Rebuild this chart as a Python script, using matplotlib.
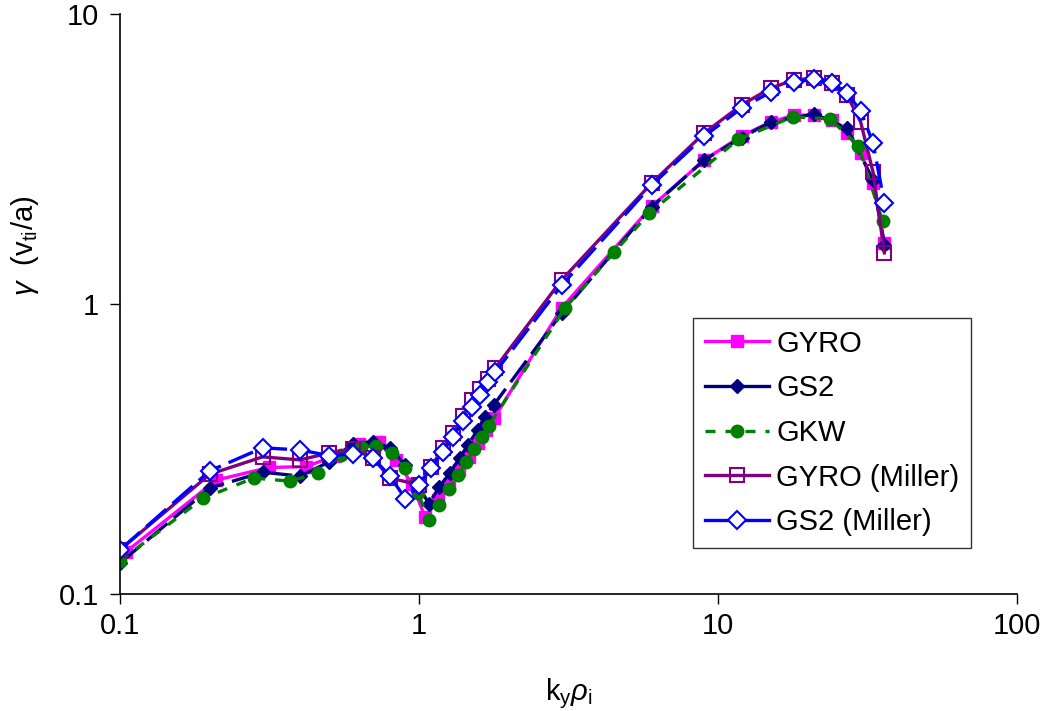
import matplotlib
matplotlib.use('Agg')
import matplotlib.pyplot as plt
from matplotlib.lines import Line2D
from matplotlib.ticker import FixedLocator, NullLocator, FuncFormatter

plt.rcParams['font.family'] = ['Liberation Sans', 'DejaVu Sans']
plt.rcParams['mathtext.fontset'] = 'custom'
plt.rcParams['mathtext.rm'] = 'Liberation Sans'
plt.rcParams['mathtext.it'] = 'Liberation Sans:italic'

# growth rate vs k_y rho_i
gyro_k = [0.105, 0.21, 0.315, 0.42, 0.525, 0.63, 0.735, 0.84, 0.945, 1.05, 1.155, 1.26,
          1.365, 1.47, 1.575, 1.68, 1.785, 3, 6, 9, 12, 15, 18, 21, 24, 27, 30, 33, 36]
gyro_g = [0.14, 0.247, 0.273, 0.275, 0.30, 0.33, 0.335, 0.29, 0.24, 0.184, 0.211, 0.238,
          0.268, 0.297, 0.332, 0.368, 0.404, 0.97, 2.17, 3.14, 3.8, 4.24, 4.48, 4.48, 4.31,
          3.89, 3.32, 2.61, 1.62]

gs2_k = [0.1, 0.2, 0.3, 0.4, 0.5, 0.6, 0.7, 0.8, 0.9, 1.08, 1.17, 1.27, 1.37, 1.46, 1.57,
         1.66, 1.78, 3, 6, 9, 12, 15, 21, 27, 33, 36]
gs2_g = [0.128, 0.232, 0.263, 0.255, 0.285, 0.33, 0.335, 0.319, 0.278, 0.205, 0.234, 0.262,
         0.295, 0.327, 0.368, 0.408, 0.449, 0.93, 2.16, 3.14, 3.75, 4.24, 4.52, 4.04, 2.68, 1.6]

gkw_k = [0.1, 0.19, 0.28, 0.37, 0.46, 0.55, 0.64, 0.72, 0.81, 0.9, 0.99, 1.08, 1.17, 1.26,
         1.35, 1.44, 1.53, 1.62, 1.71, 3.08, 4.5, 5.9, 11.7, 17.8, 23.7, 29.5, 35.5]
gkw_g = [0.13, 0.214, 0.251, 0.245, 0.261, 0.301, 0.321, 0.324, 0.306, 0.272, 0.223, 0.18,
         0.203, 0.23, 0.257, 0.285, 0.316, 0.348, 0.38, 0.969, 1.51, 2.06, 3.7, 4.42, 4.35,
         3.51, 1.93]

gyro_m_k = [0.1, 0.2, 0.3, 0.4, 0.5, 0.6, 0.7, 0.8, 1.0, 1.1, 1.2, 1.3, 1.4, 1.5, 1.6, 1.7,
            1.8, 3, 6, 9, 12, 15, 18, 21, 24, 27, 30, 33, 36]
gyro_m_g = [0.142, 0.259, 0.297, 0.29, 0.306, 0.316, 0.295, 0.251, 0.238, 0.274, 0.319,
            0.359, 0.41, 0.467, 0.509, 0.551, 0.602, 1.21, 2.61, 3.89, 4.86, 5.55, 5.93, 6.0,
            5.78, 5.25, 4.24, 2.85, 1.5]

gs2_m_k = [0.1, 0.2, 0.3, 0.4, 0.5, 0.6, 0.7, 0.8, 0.9, 1.0, 1.1, 1.2, 1.3, 1.4, 1.5, 1.6,
           1.7, 1.8, 3, 6, 9, 12, 15, 18, 21, 24, 27, 30, 33, 36]
gs2_m_g = [0.142, 0.266, 0.319, 0.314, 0.30, 0.304, 0.295, 0.255, 0.213, 0.238, 0.272,
           0.309, 0.348, 0.395, 0.441, 0.486, 0.538, 0.583, 1.16, 2.57, 3.79, 4.74, 5.38,
           5.82, 5.97, 5.78, 5.34, 4.63, 3.59, 2.23]

labels = ['GYRO', 'GS2', 'GKW', 'GYRO (Miller)', 'GS2 (Miller)']
x_ticks = [0.1, 1, 10, 100]
y_ticks = [0.1, 1, 10]

fig = plt.figure(figsize=(10.46, 7.11), dpi=100)
ax = fig.add_axes([0.1147, 0.1646, 0.8576, 0.8157])

lw = 2.4
ax.plot(gyro_k, gyro_g, color='#FF00FF', lw=lw, marker='s', ms=8,
        mfc='#FF00FF', mec='#FF00FF')
ax.plot(gs2_k, gs2_g, color='#000080', lw=lw, ls=(0, (8, 2.5)), marker='D', ms=7,
        mfc='#000080', mec='#000080')
ax.plot(gkw_k, gkw_g, color='#008000', lw=lw, ls=(0, (3, 3)), marker='o', ms=9,
        mfc='#008000', mec='#008000')
ax.plot(gyro_m_k, gyro_m_g, color='#800080', lw=lw, marker='s', ms=10,
        mfc='none', mec='#800080', mew=1.5)
ax.plot(gs2_m_k, gs2_m_g, color='#0000FF', lw=lw, ls=(0, (8, 2.5)), marker='D', ms=9,
        mfc='white', mec='#0000FF', mew=1.5)

ax.set_xscale('log')
ax.set_yscale('log')
ax.set_xlim(0.1, 100)
ax.set_ylim(0.1, 10)
ax.xaxis.set_major_locator(FixedLocator(x_ticks))
ax.yaxis.set_major_locator(FixedLocator(y_ticks))
ax.xaxis.set_minor_locator(NullLocator())
ax.yaxis.set_minor_locator(NullLocator())
fmt = FuncFormatter(lambda v, p: '%g' % v)
ax.xaxis.set_major_formatter(fmt)
ax.yaxis.set_major_formatter(fmt)
ax.tick_params(direction='out', length=7, width=1, labelsize=21, colors='black')
ax.tick_params(axis='y', pad=8)
ax.tick_params(axis='x', pad=6)

for s in ['top', 'right']:
    ax.spines[s].set_visible(False)
for s in ['left', 'bottom']:
    ax.spines[s].set_linewidth(1.2)

ax.set_xlabel(r'k$_\mathregular{y}$$\rho_\mathregular{i}$', fontsize=21, labelpad=26)
ax.set_ylabel(r'$\gamma$  (v$_\mathregular{ti}$/a)', fontsize=21)
ax.yaxis.set_label_coords(-0.088, 0.6)

# legend samples: the Excel legend draws the GS2 lines solid
handles = [
    Line2D([], [], color='#FF00FF', lw=lw, marker='s', ms=8, mfc='#FF00FF', mec='#FF00FF'),
    Line2D([], [], color='#000080', lw=lw, marker='D', ms=7, mfc='#000080', mec='#000080'),
    Line2D([], [], color='#008000', lw=lw, ls=(0, (3, 3)), marker='o', ms=9,
           mfc='#008000', mec='#008000'),
    Line2D([], [], color='#800080', lw=lw, marker='s', ms=10, mfc='none', mec='#800080', mew=1.5),
    Line2D([], [], color='#0000FF', lw=lw, marker='D', ms=9, mfc='white', mec='#0000FF', mew=1.5),
]
leg = ax.legend(handles, labels, loc='upper left', bbox_to_anchor=(693 / 1046, 1 - 318 / 711),
                bbox_transform=fig.transFigure, fontsize=21, frameon=True,
                fancybox=False, edgecolor='black', handlelength=2.2,
                handletextpad=0.25, labelspacing=0.57, borderpad=0.4, borderaxespad=0)
leg.get_frame().set_linewidth(1.0)

fig.savefig('out.png', dpi=100)
